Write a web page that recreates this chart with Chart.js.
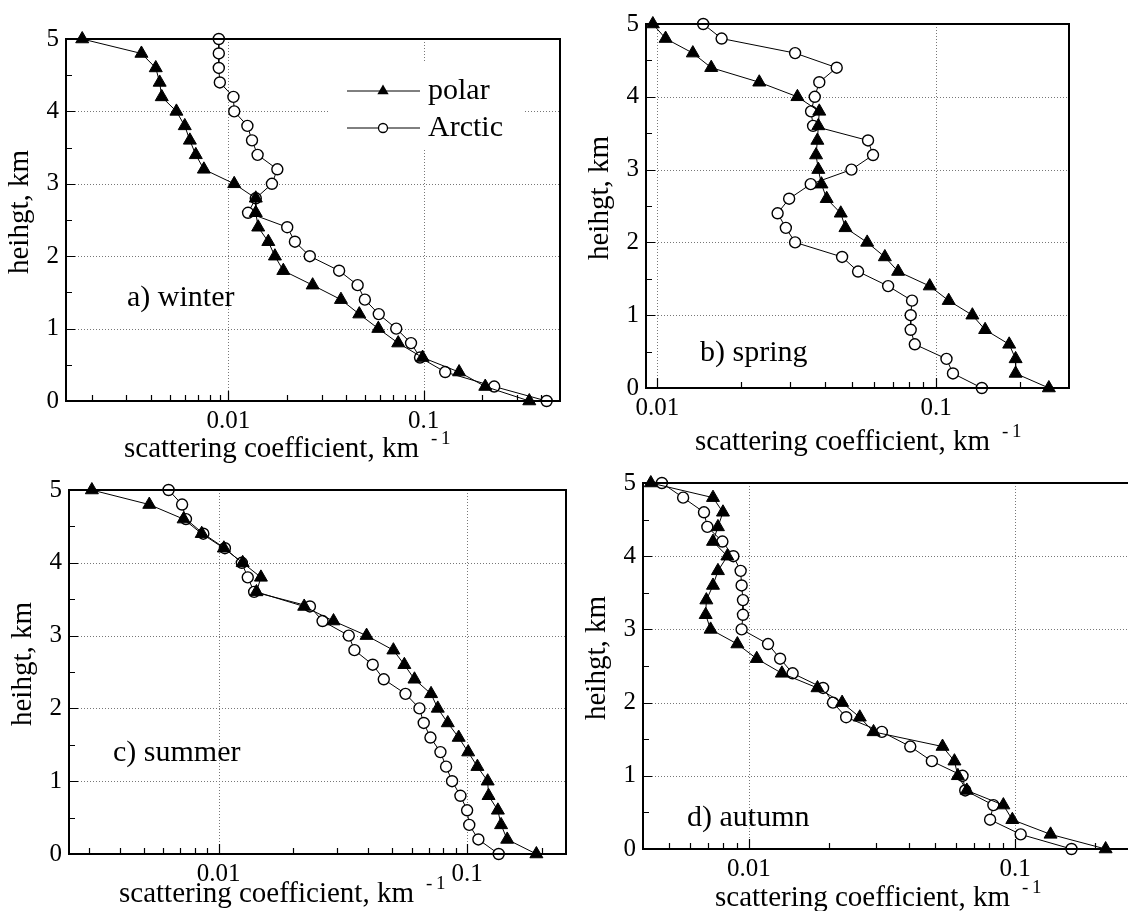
<!DOCTYPE html>
<html>
<head>
<meta charset="utf-8">
<script src="https://cdn.jsdelivr.net/npm/chart.js@4"></script>
<style>
  body { margin: 0; width: 1128px; height: 911px; overflow: hidden; background: #fff; position: relative; }
  canvas { position: absolute; }
</style>
</head>
<body>
<script>
// heights, km (same for every season)
const heights = [5.0, 4.8, 4.6, 4.4, 4.2, 4.0, 3.8, 3.6, 3.4, 3.2, 3.0, 2.8, 2.6,
                 2.4, 2.2, 2.0, 1.8, 1.6, 1.4, 1.2, 1.0, 0.8, 0.6, 0.4, 0.2, 0.0];

// scattering coefficient, km^-1
const winterPolar  = [0.00178, 0.00358, 0.00424, 0.00444, 0.00455, 0.00541, 0.00597, 0.00634, 0.0068, 0.00748, 0.0107, 0.0138, 0.0138,
                      0.0142, 0.016, 0.0173, 0.0191, 0.027, 0.0377, 0.0468, 0.0586, 0.0741, 0.0988, 0.152, 0.207, 0.348];
const winterArctic = [0.00892, 0.00892, 0.00892, 0.00903, 0.0106, 0.0107, 0.0125, 0.0132, 0.0141, 0.0178, 0.0167, 0.0138, 0.0126,
                      0.02, 0.0219, 0.0261, 0.0369, 0.0459, 0.05, 0.0589, 0.0724, 0.0862, 0.0959, 0.129, 0.23, 0.427];
const springPolar  = [0.00963, 0.0107, 0.0134, 0.0156, 0.0232, 0.0318, 0.0381, 0.0378, 0.0375, 0.0371, 0.0378, 0.0388, 0.0405,
                      0.0455, 0.0473, 0.0566, 0.0655, 0.0731, 0.0949, 0.111, 0.135, 0.15, 0.183, 0.193, 0.193, 0.254];
const springArctic = [0.0146, 0.017, 0.0312, 0.044, 0.0381, 0.0367, 0.0356, 0.0362, 0.057, 0.0594, 0.0497, 0.0355, 0.0297,
                      0.027, 0.0289, 0.0312, 0.046, 0.0525, 0.0673, 0.082, 0.0811, 0.0811, 0.0839, 0.109, 0.115, 0.146];
const summerPolar  = [0.00309, 0.00526, 0.00723, 0.00855, 0.0105, 0.0125, 0.0148, 0.0142, 0.0221, 0.029, 0.0394, 0.0505, 0.0559,
                      0.0614, 0.0716, 0.0762, 0.0836, 0.0925, 0.101, 0.11, 0.121, 0.122, 0.133, 0.137, 0.145, 0.19];
const summerArctic = [0.00629, 0.00713, 0.00739, 0.00868, 0.0106, 0.0124, 0.0131, 0.0139, 0.0233, 0.0262, 0.0334, 0.0352, 0.0417,
                      0.0462, 0.0565, 0.0643, 0.0669, 0.0712, 0.0781, 0.0823, 0.087, 0.094, 0.1, 0.102, 0.111, 0.134];
const autumnPolar  = [0.00428, 0.00733, 0.00799, 0.00765, 0.00733, 0.0083, 0.00765, 0.00733, 0.00692, 0.00688, 0.00718, 0.00905, 0.0107,
                      0.0133, 0.0181, 0.0224, 0.0261, 0.0294, 0.0534, 0.0592, 0.061, 0.0659, 0.0904, 0.0977, 0.136, 0.219];
const autumnArctic = [0.00471, 0.00566, 0.00678, 0.00698, 0.00795, 0.00874, 0.00931, 0.00939, 0.0095, 0.0095, 0.00939, 0.0118, 0.0131,
                      0.0146, 0.019, 0.0207, 0.0232, 0.0316, 0.0404, 0.0487, 0.0635, 0.065, 0.0829, 0.0806, 0.105, 0.163];

const yTicks = [0, 1, 2, 3, 4, 5];
const seriesNames = ["polar", "Arctic"];
const yTitle = "heihgt, km";
const xTitle = "scattering coefficient, km";

Chart.defaults.font.family = "'Liberation Serif', 'Times New Roman', serif";
Chart.defaults.color = "#000";

const PAD_L = 80, PAD_T = 16, PAD_R = 16, PAD_B = 80;

// plot frame + grid + inward ticks + texts
const framePlugin = {
  id: "frame",
  beforeDatasetsDraw(chart, args, o) {
    const { ctx, chartArea: a, scales: { x, y } } = chart;
    ctx.save();
    ctx.strokeStyle = "#777";
    ctx.lineWidth = 1;
    ctx.setLineDash([1, 2]);
    ctx.beginPath();
    for (let e = -3; e <= 0; e++) {
      const v = Math.pow(10, e);
      if (v <= x.min || v >= x.max) continue;
      const px = Math.round(x.getPixelForValue(v)) + 0.5;
      ctx.moveTo(px, a.top); ctx.lineTo(px, a.bottom);
    }
    yTicks.forEach(v => {
      if (v <= 0 || v >= 5) return;
      const py = Math.round(y.getPixelForValue(v)) + 0.5;
      ctx.moveTo(a.left, py); ctx.lineTo(a.right, py);
    });
    ctx.stroke();
    ctx.setLineDash([]);
    if (o.legend) {
      ctx.fillStyle = "#fff";
      ctx.fillRect(a.left + 264, a.top + 24, 193, 86);
    }
    ctx.restore();
  },
  afterDraw(chart, args, o) {
    const { ctx, chartArea: a, scales: { x, y } } = chart;
    ctx.save();
    // inward ticks
    ctx.strokeStyle = "#000";
    ctx.lineWidth = 1.2;
    ctx.beginPath();
    for (let e = -3; e <= 0; e++) {
      for (let m = 1; m <= 9; m++) {
        const v = m * Math.pow(10, e);
        if (v <= x.min || v >= x.max) continue;
        const px = Math.round(x.getPixelForValue(v)) + 0.5;
        ctx.moveTo(px, a.bottom); ctx.lineTo(px, a.bottom - (m === 1 ? 10 : 6));
      }
    }
    for (let v = 0.5; v < 5; v += 0.5) {
      const py = Math.round(y.getPixelForValue(v)) + 0.5;
      ctx.moveTo(a.left, py); ctx.lineTo(a.left + (v % 1 === 0 ? 9 : 6), py);
    }
    ctx.stroke();
    // frame
    ctx.lineWidth = 2;
    ctx.strokeRect(a.left, a.top, a.right - a.left, a.bottom - a.top);

    // panel label
    ctx.fillStyle = "#000";
    ctx.font = "30px 'Liberation Serif'";
    ctx.textBaseline = "alphabetic";
    ctx.textAlign = "left";
    ctx.fillText(o.label, a.left + o.labelDx, a.top + o.labelDy);

    // x title with superscript
    ctx.font = "29px 'Liberation Serif'";
    const tx = a.left + o.titleDx, ty = a.bottom + o.titleDy;
    ctx.fillText(xTitle, tx, ty);
    const w = ctx.measureText(xTitle).width;
    ctx.font = "19px 'Liberation Serif'";
    ctx.fillText("-", tx + w + 12, ty - 13);
    ctx.fillText("1", tx + w + 22, ty - 13);

    // y title
    ctx.font = "29px 'Liberation Serif'";
    ctx.translate(a.left - 46, (a.top + a.bottom) / 2 - 8);
    ctx.rotate(-Math.PI / 2);
    ctx.textAlign = "center";
    ctx.textBaseline = "middle";
    ctx.fillText(yTitle, 0, 0);
    ctx.restore();

    if (o.legend) {
      ctx.save();
      const lx = a.left + 281, rows = [a.top + 52, a.top + 89];
      ctx.strokeStyle = "#000";
      ctx.lineWidth = 1;
      rows.forEach((ry, i) => {
        ctx.beginPath();
        ctx.moveTo(lx, ry); ctx.lineTo(lx + 73, ry);
        ctx.stroke();
        const mx = lx + 36;
        ctx.beginPath();
        if (i === 0) {
          const r = 6.5;
          ctx.moveTo(mx, ry - r);
          ctx.lineTo(mx + r * 0.866, ry + r * 0.5);
          ctx.lineTo(mx - r * 0.866, ry + r * 0.5);
          ctx.closePath();
          ctx.fillStyle = "#000";
          ctx.fill();
        } else {
          ctx.arc(mx, ry, 4.5, 0, Math.PI * 2);
          ctx.fillStyle = "#fff";
          ctx.fill();
          ctx.lineWidth = 1.3;
          ctx.stroke();
        }
        ctx.fillStyle = "#000";
        ctx.font = "30px 'Liberation Serif'";
        ctx.textBaseline = "middle";
        ctx.fillText(seriesNames[i], lx + 81, ry);
      });
      ctx.restore();
    }
  }
};

function decadeLabel(v) {
  const e = Math.log10(v);
  if (Math.abs(e - Math.round(e)) > 1e-6) return "";
  return String(Math.pow(10, Math.round(e)));
}

function makePanel(p) {
  const canvas = document.createElement("canvas");
  canvas.width = p.r - p.l + PAD_L + PAD_R;
  canvas.height = p.b - p.t + PAD_T + PAD_B;
  canvas.style.left = (p.l - PAD_L) + "px";
  canvas.style.top = (p.t - PAD_T) + "px";
  document.body.appendChild(canvas);

  new Chart(canvas, {
    type: "scatter",
    data: {
      datasets: [{
        label: seriesNames[0],
        data: heights.map((h, i) => ({ x: p.polar[i], y: h })),
        showLine: true,
        borderColor: "#000",
        borderWidth: 1,
        pointStyle: "triangle",
        pointRadius: 7.5,
        pointBackgroundColor: "#000",
        pointBorderColor: "#000",
        pointBorderWidth: 1,
        clip: false
      }, {
        label: seriesNames[1],
        data: heights.map((h, i) => ({ x: p.arctic[i], y: h })),
        showLine: true,
        borderColor: "#000",
        borderWidth: 1,
        pointStyle: "circle",
        pointRadius: 5.5,
        pointBackgroundColor: "#fff",
        pointBorderColor: "#000",
        pointBorderWidth: 1.4,
        clip: false
      }]
    },
    options: {
      responsive: false,
      animation: false,
      devicePixelRatio: 1,
      layout: { padding: { left: 0, top: PAD_T, right: PAD_R, bottom: 0 } },
      plugins: {
        legend: { display: false },
        tooltip: { enabled: false },
        frame: p
      },
      scales: {
        x: {
          type: "logarithmic",
          min: p.xmin,
          max: p.xmax,
          grid: { display: false, drawTicks: false },
          border: { display: false },
          ticks: { autoSkip: false, maxRotation: 0, padding: 5, font: { size: 25 }, color: "#000", callback: decadeLabel },
          afterFit: s => { s.height = PAD_B; }
        },
        y: {
          min: 0,
          max: 5,
          grid: { display: false, drawTicks: false },
          border: { display: false },
          ticks: { stepSize: 1, padding: 7, font: { size: 25 }, color: "#000" },
          afterFit: s => { s.width = PAD_L; }
        }
      }
    },
    plugins: [framePlugin]
  });
}

makePanel({ l: 66, r: 560, t: 33, b: 401, xmin: 0.00147, xmax: 0.5, polar: winterPolar, arctic: winterArctic,
            label: "a) winter", labelDx: 61, labelDy: 267, titleDx: 58, titleDy: 56, legend: true });
makePanel({ l: 646, r: 1069, t: 18, b: 388, xmin: 0.0091, xmax: 0.3, polar: springPolar, arctic: springArctic,
            label: "b) spring", labelDx: 54, labelDy: 337, titleDx: 49, titleDy: 62, legend: false });
makePanel({ l: 69, r: 566, t: 484, b: 854, xmin: 0.0025, xmax: 0.25, polar: summerPolar, arctic: summerArctic,
            label: "c) summer", labelDx: 44, labelDy: 271, titleDx: 50, titleDy: 48, legend: false });
makePanel({ l: 643, r: 1142, t: 477, b: 849, xmin: 0.004, xmax: 0.3, polar: autumnPolar, arctic: autumnArctic,
            label: "d) autumn", labelDx: 44, labelDy: 343, titleDx: 72, titleDy: 57, legend: false });
</script>
</body>
</html>
